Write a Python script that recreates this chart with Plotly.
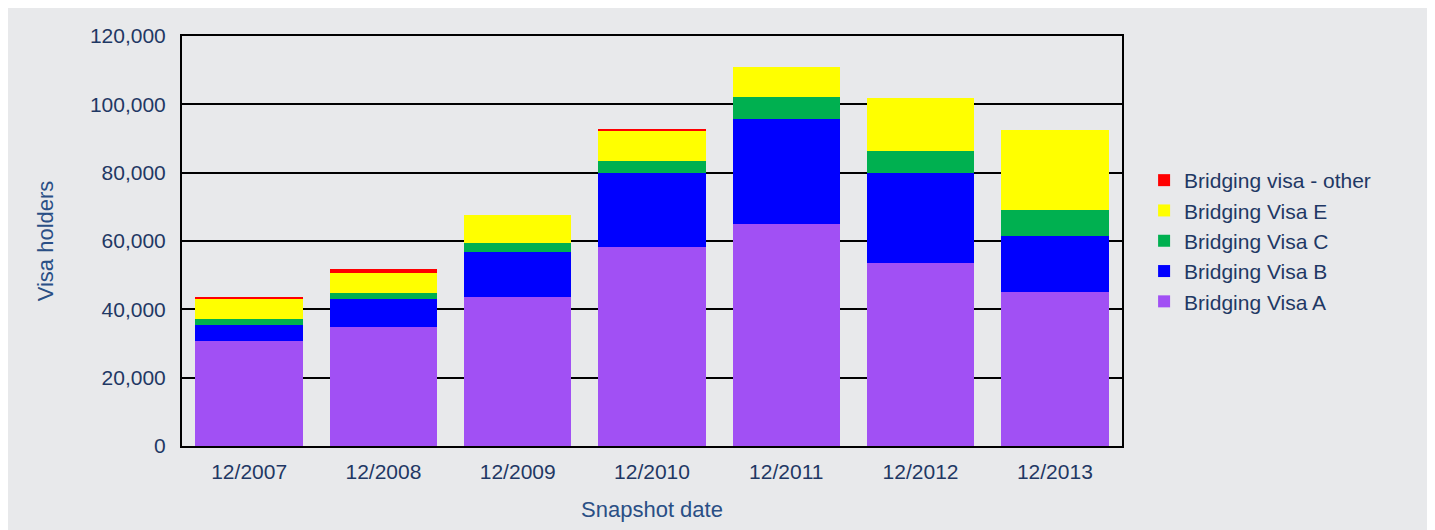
import plotly.graph_objects as go

# snapshot dates and visa counts
dates = ["12/2007", "12/2008", "12/2009", "12/2010", "12/2011", "12/2012", "12/2013"]
visa_a = [30700, 34700, 43500, 58200, 65100, 53500, 45200]
visa_b = [4600, 8200, 13300, 21700, 30500, 26300, 16400]
visa_c = [1750, 1750, 2500, 3500, 6500, 6500, 7600]
visa_e = [5850, 5850, 8200, 8700, 8700, 15700, 23400]
visa_other = [600, 1200, 0, 600, 0, 0, 0]

y_ticks = [0, 20000, 40000, 60000, 80000, 100000, 120000]

series = [
    ("Bridging Visa A", visa_a, "#a150f4"),
    ("Bridging Visa B", visa_b, "#0000ff"),
    ("Bridging Visa C", visa_c, "#00b050"),
    ("Bridging Visa E", visa_e, "#ffff00"),
    ("Bridging visa - other", visa_other, "#ff0000"),
]

bg = "#e8e9eb"
tick_col = "#1f3864"
title_col = "#2a4f85"

fig = go.Figure()
for name, vals, col in series:
    fig.add_trace(go.Bar(x=dates, y=vals, name=name, marker_color=col,
                         marker_line_width=0))

fig.update_layout(
    width=1435, height=530,
    barmode="stack", bargap=0.2,
    paper_bgcolor=bg, plot_bgcolor=bg,
    margin=dict(l=174, r=321, t=28, b=92),
    font=dict(family="Liberation Sans, Arial, sans-serif", size=21, color=tick_col),
    legend=dict(traceorder="reversed", x=1.0235, y=0.5, yanchor="middle",
                xanchor="left", font=dict(size=21, color=tick_col),
                itemwidth=30, tracegroupgap=0, bgcolor="rgba(0,0,0,0)"),
    showlegend=True,
)

fig.update_xaxes(
    showline=True, linecolor="black", linewidth=2, mirror=True,
    showgrid=False, ticks="", ticklabelstandoff=6,
    title=dict(text="Snapshot date", font=dict(size=22, color=title_col), standoff=19),
)
fig.update_yaxes(
    range=[0, 120000], tickvals=y_ticks, tickformat=",d",
    showline=True, linecolor="black", linewidth=2, mirror=True,
    showgrid=True, gridcolor="black", gridwidth=1.5, zeroline=False,
    ticks="", ticklabelstandoff=10,
    title=dict(text="Visa holders", font=dict(size=22, color=title_col), standoff=30),
)

fig.write_html("out.html")
